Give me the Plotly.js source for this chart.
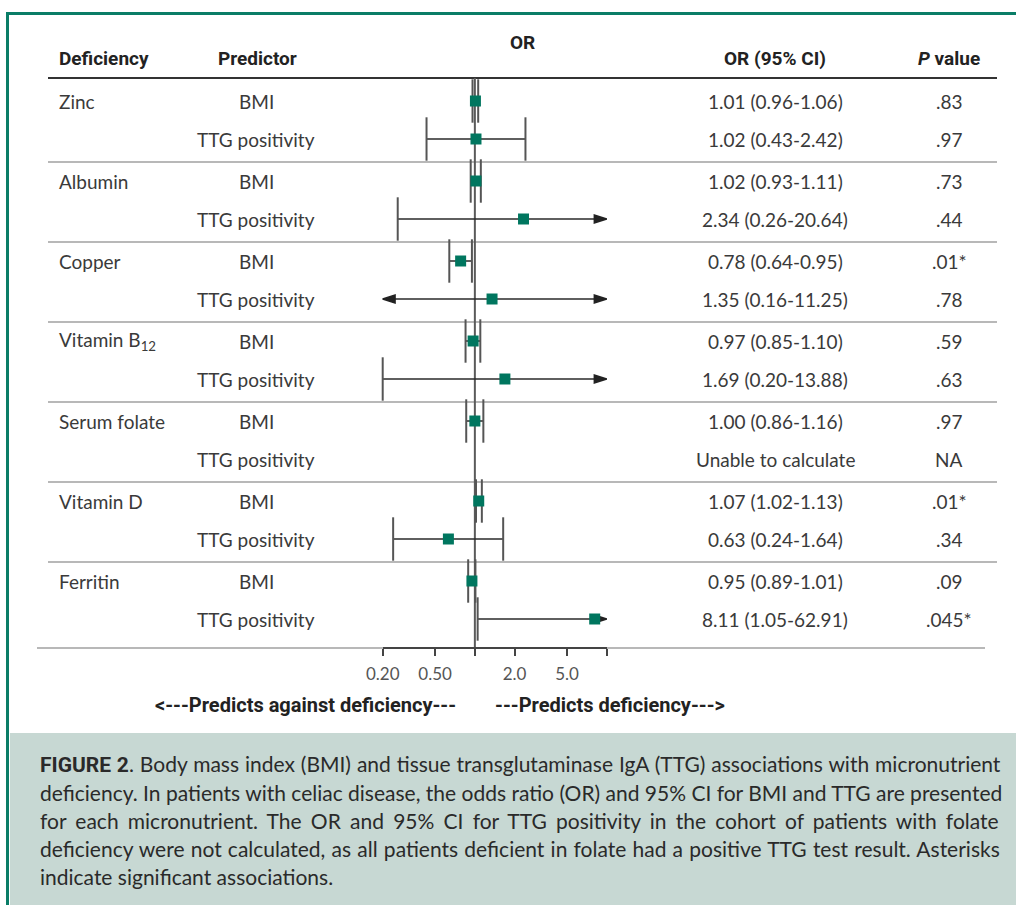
<!DOCTYPE html>
<html>
<head>
<meta charset="utf-8">
<script src="https://cdn.plot.ly/plotly-3.0.1.min.js"></script>
<style>
  html, body { margin: 0; padding: 0; background: #ffffff; }
  #chart { width: 1016px; height: 905px; }
</style>
</head>
<body>
<div id="chart"></div>
<script>
// ---------------- DATA ----------------
const deficiencies = ['Zinc', 'Albumin', 'Copper', 'Vitamin B<sub>12</sub>', 'Serum folate', 'Vitamin D', 'Ferritin'];
const predictors = ['BMI', 'TTG positivity'];

const bmiOR = [1.01, 1.02, 0.78, 0.97, 1.00, 1.07, 0.95];
const bmiLo = [0.96, 0.93, 0.64, 0.85, 0.86, 1.02, 0.89];
const bmiHi = [1.06, 1.11, 0.95, 1.10, 1.16, 1.13, 1.01];
const bmiP  = ['.83', '.73', '.01*', '.59', '.97', '.01*', '.09'];

const ttgOR = [1.02, 2.34, 1.35, 1.69, null, 0.63, 8.11];
const ttgLo = [0.43, 0.26, 0.16, 0.20, null, 0.24, 1.05];
const ttgHi = [2.42, 20.64, 11.25, 13.88, null, 1.64, 62.91];
const ttgP  = ['.97', '.44', '.78', '.63', 'NA', '.34', '.045*'];
const notCalculatedText = 'Unable to calculate';

const tickVals = [0.2, 0.5, 2, 5];
const tickText = ['0.20', '0.50', '2.0', '5.0'];
const unlabeledTicks = [1, 10];
const xMin = 0.2, xMax = 10;

const captionLabel = 'FIGURE 2';
const captionLines = [
  '. Body mass index (BMI) and tissue transglutaminase IgA (TTG) associations with micronutrient',
  'deficiency. In patients with celiac disease, the odds ratio (OR) and 95% CI for BMI and TTG are presented',
  'for each micronutrient. The OR and 95% CI for TTG positivity in the cohort of patients with folate',
  'deficiency were not calculated, as all patients deficient in folate had a positive TTG test result. Asterisks',
  'indicate significant associations.'
];

// ---------------- LAYOUT HELPERS ----------------
const W = 1016, H = 905;
const ROW0 = 101, ROWH = 40;
const yPx = px => (px - ROW0) / ROWH;      // pixel row -> y units
const xP = px => px / W;                   // pixel col -> paper x
const TEAL = '#00765f';
const BORDER = '#0a7d67';
const bodyFont = { family: 'Lato, sans-serif', size: 19, color: '#3a3a3a' };
const headFont = { family: 'Roboto, sans-serif', size: 19, color: '#222', weight: 'bold' };
const noteFont = { family: 'Roboto, sans-serif', size: 20, color: '#222', weight: 'bold' };
const CAP_SIZE = 21, CAP_LEFT = 38, CAP_RIGHT = 1000;

// build row records
const rows = [];
deficiencies.forEach((d, g) => {
  rows.push({ g, p: 0, y: 2 * g, or: bmiOR[g], lo: bmiLo[g], hi: bmiHi[g], pv: bmiP[g] });
  rows.push({ g, p: 1, y: 2 * g + 0.95, or: ttgOR[g], lo: ttgLo[g], hi: ttgHi[g], pv: ttgP[g] });
});

const fmt = v => v.toFixed(2);

// ---------------- TRACES ----------------
const refLine = {
  x: [1, 1], y: [yPx(78), yPx(648)], mode: 'lines',
  line: { color: '#5a5a5a', width: 2 }, hoverinfo: 'skip', showlegend: false, cliponaxis: false
};

const ciX = [], ciY = [], capX = [], capY = [], ptX = [], ptY = [];
const arX = [], arY = [], arAng = [];
rows.forEach(r => {
  if (r.or === null) return;
  const a = Math.max(r.lo, xMin), b = Math.min(r.hi, xMax);
  ciX.push(a, b, null); ciY.push(r.y, r.y, null);
  if (r.lo >= xMin) { capX.push(r.lo); capY.push(r.y); } else { arX.push(xMin); arY.push(r.y); arAng.push(-90); }
  if (r.hi <= xMax) { capX.push(r.hi); capY.push(r.y); } else { arX.push(xMax); arY.push(r.y); arAng.push(90); }
  ptX.push(r.or); ptY.push(r.y);
});

const ciTrace = { x: ciX, y: ciY, mode: 'lines', line: { color: '#2a2a2a', width: 1.5 },
  hoverinfo: 'skip', showlegend: false, cliponaxis: false };
const capTrace = { x: capX, y: capY, mode: 'markers', hoverinfo: 'skip', showlegend: false, cliponaxis: false,
  marker: { symbol: 'line-ns', size: 31, line: { color: '#555', width: 2 } } };
const arrowTrace = { x: arX, y: arY, mode: 'markers', hoverinfo: 'skip', showlegend: false, cliponaxis: false,
  marker: { symbol: 'arrow', angle: arAng, size: 13, color: '#222', line: { width: 1.5, color: '#222' } } };
const ptTrace = { x: ptX, y: ptY, mode: 'markers', hoverinfo: 'skip', showlegend: false, cliponaxis: false,
  marker: { symbol: 'square', size: 11, color: TEAL, line: { width: 0 } } };

// ---------------- TEXT ----------------
const annotations = [];
function txt(text, xpx, ypx, anchor, font) {
  annotations.push({ text, x: xP(xpx), y: yPx(ypx), xref: 'paper', yref: 'y',
    xanchor: anchor, yanchor: 'middle', showarrow: false, font });
}
// headers
txt('Deficiency', 57, 58, 'left', headFont);
txt('Predictor', 216, 58, 'left', headFont);
txt('OR', 522, 42, 'center', headFont);
txt('OR (95% CI)', 775, 58, 'center', headFont);
txt('<i>P</i> value', 949, 58, 'center', headFont);

rows.forEach(r => {
  const ypx = ROW0 + r.y * ROWH;
  if (r.p === 0) txt(deficiencies[r.g], 57, ypx, 'left', bodyFont);
  txt(predictors[r.p], 256, ypx, 'center', bodyFont);
  const orText = r.or === null ? notCalculatedText : `${fmt(r.or)} (${fmt(r.lo)}-${fmt(r.hi)})`;
  txt(orText, 775, ypx, 'center', bodyFont);
  txt(r.pv, 949, ypx, 'center', bodyFont);
});

txt('&lt;---Predicts against deficiency---', 305, 705, 'center', noteFont);
txt('---Predicts deficiency---&gt;', 610, 705, 'center', noteFont);

// caption, justified via word-spacing (last line left as is)
const ctx = document.createElement('canvas').getContext('2d');
function measure(font, s) { ctx.font = font; return ctx.measureText(s).width; }
const capFont = { family: 'Lato, sans-serif', size: CAP_SIZE, color: '#2a2a2a' };
captionLines.forEach((line, i) => {
  let plain = line, width = measure(`${CAP_SIZE}px Lato`, line), label = '';
  if (i === 0) {
    label = `<span style="font-family:Roboto;font-weight:bold">${captionLabel}</span>`;
    plain = captionLabel + line;
    width += measure(`bold ${CAP_SIZE}px Roboto`, captionLabel);
  }
  const spaces = (plain.match(/ /g) || []).length;
  let ws = 0;
  if (i < captionLines.length - 1 && spaces > 0) ws = Math.max(0, (CAP_RIGHT - CAP_LEFT - width) / spaces);
  const html = `<span style="word-spacing:${ws.toFixed(2)}px">${label}${line}</span>`;
  txt(html, CAP_LEFT, 764 + 28 * i, 'left', capFont);
});

// ---------------- SHAPES ----------------
const shapes = [];
shapes.push({ type: 'rect', xref: 'paper', yref: 'paper', x0: xP(10), x1: 1, y0: 0, y1: 1 - 733 / H,
  fillcolor: '#c7d8d3', line: { width: 0 }, layer: 'below' });
shapes.push({ type: 'line', xref: 'paper', yref: 'paper', x0: xP(6), x1: 1, y0: 1 - 13.5 / H, y1: 1 - 13.5 / H,
  line: { color: BORDER, width: 3 } });
shapes.push({ type: 'line', xref: 'paper', yref: 'paper', x0: xP(7.5), x1: xP(7.5), y0: 0, y1: 1 - 12 / H,
  line: { color: BORDER, width: 3 } });
shapes.push({ type: 'line', xref: 'paper', yref: 'y', x0: xP(48), x1: xP(997), y0: yPx(78), y1: yPx(78),
  line: { color: '#333', width: 2 }, layer: 'below' });
for (let g = 0; g < deficiencies.length - 1; g++) {
  const yy = 2 * g + 1.525;
  shapes.push({ type: 'line', xref: 'paper', yref: 'y', x0: xP(48), x1: xP(997), y0: yy, y1: yy,
    line: { color: '#a0a0a0', width: 1.5 }, layer: 'below' });
}
shapes.push({ type: 'line', xref: 'paper', yref: 'y', x0: xP(37), x1: xP(985), y0: yPx(648), y1: yPx(648),
  line: { color: '#a0a0a0', width: 1.5 }, layer: 'below' });

// ---------------- LAYOUT ----------------
const layout = {
  width: W, height: H,
  margin: { l: 0, r: 0, t: 0, b: 0 },
  paper_bgcolor: '#ffffff', plot_bgcolor: 'rgba(0,0,0,0)',
  showlegend: false,
  xaxis: {
    type: 'log', range: [Math.log10(xMin), Math.log10(xMax)],
    domain: [xP(382.7), xP(606.7)],
    anchor: 'free', position: 1 - 648 / H,
    showgrid: false, zeroline: false,
    showline: true, linecolor: '#444', linewidth: 2,
    ticks: 'outside', ticklen: 7, tickwidth: 2, tickcolor: '#444',
    tickmode: 'array', tickvals: tickVals, ticktext: tickText,
    tickfont: { family: 'Lato, sans-serif', size: 17, color: '#555' },
    ticklabelstandoff: 4,
    minor: { tickmode: 'array', tickvals: unlabeledTicks, ticks: 'outside', ticklen: 7, tickwidth: 2,
      tickcolor: '#444', showgrid: false },
    fixedrange: true
  },
  yaxis: {
    range: [yPx(H), yPx(0)], domain: [0, 1],
    visible: false, fixedrange: true
  },
  shapes, annotations
};

Plotly.newPlot('chart', [refLine, ciTrace, capTrace, arrowTrace, ptTrace], layout,
  { displayModeBar: false, staticPlot: true });
</script>
</body>
</html>
